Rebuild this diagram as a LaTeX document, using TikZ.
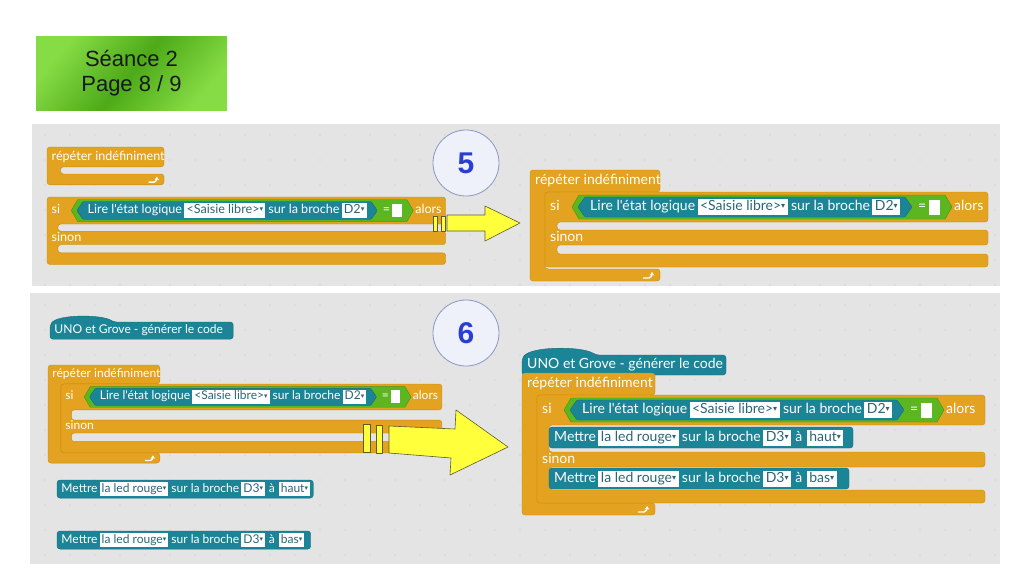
\documentclass[tikz,border=0pt]{standalone}
\usepackage{fontspec}
\setmainfont{Liberation Sans}
\newfontfamily\blkfont{Lato}
\newfontfamily\symfont{DejaVu Sans}
\usetikzlibrary{positioning,arrows.meta}

\definecolor{blkorange}{HTML}{E3A21F}
\definecolor{blkedge}{HTML}{C98B14}
\definecolor{blkteal}{HTML}{1B8597}
\definecolor{blkgreen}{HTML}{5BB61F}
\definecolor{fieldtxt}{HTML}{2C6675}
\definecolor{panelgray}{HTML}{E4E4E4}
\definecolor{dotgray}{HTML}{D6D6D6}
\definecolor{circfill}{HTML}{EEF0FA}
\definecolor{circedge}{HTML}{8A97C6}
\definecolor{numblue}{HTML}{2A3FCF}
\definecolor{arrowyel}{HTML}{FFFF3C}
\definecolor{arrowedge}{HTML}{5C5C28}
\definecolor{tagdark}{HTML}{4DAA18}
\definecolor{taglight}{HTML}{86DC45}

\newcommand{\dn}{\raisebox{2pt}{\symfont\fontsize{8}{8}\selectfont ▾}}

\tikzset{
  orangeblk/.style={fill=blkorange, draw=blkedge, line width=0.4pt, rounded corners=3pt},
  tealblk/.style={fill=blkteal, draw=blkteal!80!black, line width=0.4pt, rounded corners=3pt},
  greenblk/.style={fill=blkgreen, draw=blkgreen!80!black, line width=0.4pt},
  lbl/.style={text=white, font=\blkfont\fontsize{14}{16}\selectfont, inner sep=0pt,
    text height=10pt, text depth=3pt, anchor=west},
  field/.style={fill=white, text=fieldtxt, font=\blkfont\fontsize{14}{16}\selectfont,
    inner xsep=2.5pt, inner ysep=1.5pt, text height=10pt, text depth=3pt},
  yelarrow/.style={fill=arrowyel, draw=arrowedge, line width=0.6pt, line join=round},
  numcirc/.style={circle, fill=circfill, draw=circedge, line width=0.8pt, minimum size=66pt,
    text=numblue, font=\bfseries\fontsize{30}{30}\selectfont},
  tagbox/.style={minimum width=191pt, minimum height=74pt, align=center,
    top color=taglight, bottom color=taglight, middle color=tagdark, shading angle=50,
    text=black!90, font=\fontsize{22}{25}\selectfont},
}

% #1 prefix, #2 width, #3 inner height
\newcommand{\repblk}[3]{%
  \draw[orangeblk] (0,0) -- (#2,0) -- (#2,22) -- (15,22) -- (15,22+#3) -- (#2,22+#3)
    -- (#2,34+#3) -- (0,34+#3) -- cycle;
  \node[lbl] (#1-rep) at (5,11) {répéter indéfiniment};
  \draw[white, line width=1.4pt, -{Stealth[length=3.5pt,width=4.5pt]}] (#2-17,31+#3) -- (#2-11,31+#3)
    to[out=0, in=-90] (#2-8,25+#3);
}

% #1 prefix, #2 width, #3 and #4 openings
\newcommand{\siblk}[4]{%
  \draw[orangeblk] (0,0) -- (#2,0) -- (#2,30) -- (12,30) -- (12,30+#3) -- (#2,30+#3)
    -- (#2,45+#3) -- (12,45+#3) -- (12,45+#3+#4) -- (#2,45+#3+#4) -- (#2,58+#3+#4)
    -- (0,58+#3+#4) -- cycle;
  \node[lbl] (#1-si) at (5,15) {si};
  \node[lbl] (#1-sinon) at (5,37.5+#3) {sinon};
  \draw[greenblk] (27,15) -- (34,3) -- (400,3) -- (407,15) -- (400,27) -- (34,27) -- cycle;
  \draw[tealblk, rounded corners=1pt] (33,15) -- (40,5) -- (360,5) -- (367,15) -- (360,25) -- (40,25) -- cycle;
  \node[lbl] (#1-lire) at (45,15) {Lire l'état logique};
  \node[field, right=2pt of #1-lire] (#1-saisie) {<Saisie libre>\dn};
  \node[lbl, right=3pt of #1-saisie] (#1-broche) {sur la broche};
  \node[field, right=2pt of #1-broche] (#1-pin) {D2\dn};
  \node[lbl] (#1-eq) at (373,15) {=};
  \node[fill=white, minimum width=11pt, minimum height=15pt, inner sep=0pt] (#1-val) at (389,15) {};
  \node[lbl] (#1-alors) at (409,15) {alors};
}

% #1 prefix, #2 width, #3 level
\newcommand{\setblk}[3]{%
  \draw[tealblk] (0,0) rectangle (#2,21);
  \node[lbl] (#1-mettre) at (5,10.5) {Mettre};
  \node[field, right=2pt of #1-mettre] (#1-led) {la led rouge\dn};
  \node[lbl, right=3pt of #1-led] (#1-broche) {sur la broche};
  \node[field, right=2pt of #1-broche] (#1-pin) {D3\dn};
  \node[lbl, right=4pt of #1-pin] (#1-a) {à};
  \node[field, right=4pt of #1-a] (#1-lvl) {#3\dn};
}

% #1 name, #2 width
\newcommand{\hatblk}[2]{%
  \draw[tealblk] (0,20) -- (0,4) .. controls (8,-9) and (60,-9) .. (74,0) -- (#2,0) -- (#2,20) -- cycle;
  \node[lbl] (#1) at (5,10) {UNO et Grove - générer le code};
}

\begin{document}
\begin{tikzpicture}[x=1pt, y=-1pt]
  \useasboundingbox (0,0) rectangle (1024,576);
  \fill[white] (0,0) rectangle (1024,576);

  \node[tagbox] (tag) at (131.5,73) {Séance 2\\Page 8 / 9};

  \fill[panelgray] (32,124) rectangle (1000,286);
  \fill[panelgray] (30,293) rectangle (1000,564);
  \foreach \x in {45,70,...,995} {
    \foreach \y in {135,160,...,285} {
      \fill[dotgray] (\x,\y) circle (0.8);
    }
    \foreach \y in {305,330,...,560} {
      \fill[dotgray] (\x,\y) circle (0.8);
    }
  }

  \begin{scope}[shift={(47,147)}, scale=0.9, transform shape]
    \repblk{pa}{130}{8}
  \end{scope}
  \begin{scope}[shift={(47,197)}, scale=0.9, transform shape]
    \siblk{pb}{443}{8}{9}
  \end{scope}

  \begin{scope}[shift={(530,170)}]
    \repblk{pc}{130}{77}
  \end{scope}
  \begin{scope}[shift={(545,192)}]
    \siblk{pd}{443}{8}{9}
  \end{scope}

  \begin{scope}[shift={(50,322)}, scale=0.86, transform shape]
    \hatblk{pe-hat}{213}
  \end{scope}
  \begin{scope}[shift={(48,365)}, scale=0.86, transform shape]
    \repblk{pf}{130}{80}
  \end{scope}
  \begin{scope}[shift={(61,384)}, scale=0.86, transform shape]
    \siblk{pg}{443}{12}{10}
  \end{scope}
  \begin{scope}[shift={(57,480)}, scale=0.86, transform shape]
    \setblk{ph}{298}{haut}
  \end{scope}
  \begin{scope}[shift={(57,531)}, scale=0.86, transform shape]
    \setblk{pi}{295}{bas}
  \end{scope}

  \begin{scope}[shift={(522,355)}]
    \hatblk{pj-hat}{204}
  \end{scope}
  \begin{scope}[shift={(522,373)}]
    \repblk{pk}{133}{108}
  \end{scope}
  \begin{scope}[shift={(537,395)}]
    \siblk{pl}{448}{27}{23}
  \end{scope}
  \begin{scope}[shift={(549,427)}]
    \setblk{pm}{304}{haut}
  \end{scope}
  \begin{scope}[shift={(549,468)}]
    \setblk{pn}{300}{bas}
  \end{scope}

  \node[numcirc] (five) at (466,163) {5};
  \node[numcirc] (six) at (466,333) {6};

  \draw[yelarrow] (433,216) rectangle (437,231);
  \draw[yelarrow] (441,216) rectangle (445,231);
  \draw[yelarrow] (447,215) -- (485,215) -- (485,206) -- (520,223) -- (485,241) -- (485,231) -- (447,231) -- cycle;

  \draw[yelarrow] (363,424) rectangle (370,452);
  \draw[yelarrow] (376,425) rectangle (382,453);
  \draw[yelarrow] (389,426) -- (455,429) -- (456,410) -- (508,447) -- (450,475) -- (451,458) -- (389,453) -- cycle;
\end{tikzpicture}
\end{document}
